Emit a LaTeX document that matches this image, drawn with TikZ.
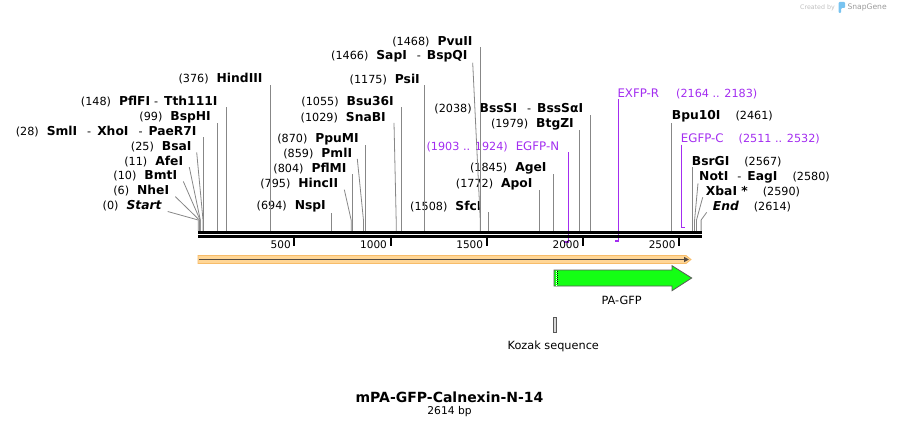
\documentclass[tikz,border=0pt]{standalone}
\usepackage{fontspec}
\setmainfont{DejaVu Sans}
\usepackage{tikz}
\usepackage{xcolor}
\usetikzlibrary{arrows.meta}
\definecolor{cutgray}{RGB}{135,135,135}
\definecolor{primer}{RGB}{163,45,240}
\definecolor{band}{RGB}{255,214,150}
\definecolor{bandedge}{RGB}{247,188,105}
\definecolor{bandline}{RGB}{85,75,65}
\definecolor{gfp}{RGB}{20,255,20}
\definecolor{snapblue}{RGB}{120,195,240}
\newcommand{\en}[1]{{\fontsize{12.3}{14}\selectfont\bfseries #1}}
\newcommand{\bpx}[1]{198.2+0.1924*#1}
\tikzstyle{lab} = [inner sep=0pt, font=\fontsize{11.2}{13}\selectfont, text=black]
\tikzstyle{lleft} = [lab, anchor=east]
\tikzstyle{lright} = [lab, anchor=west]
\tikzstyle{cut} = [cutgray, line width=0.8pt]
\tikzstyle{primerline} = [primer, line width=1.3pt]
\tikzstyle{tick} = [black, line width=2pt]
\tikzstyle{ticklab} = [inner sep=0pt, anchor=east, font=\fontsize{10.5}{12}\selectfont]
\tikzstyle{feat} = [inner sep=0pt, font=\fontsize{11.3}{13}\selectfont]

\begin{document}
\begin{tikzpicture}[x=1pt, y=-1pt]
		\useasboundingbox (0,0) rectangle (900,428);
		% cut sites on the backbone
		\foreach \b in {0,6,10,11,25,28,99,148,376,694,795,804,859,870,1029,1055,1175,1466,1468,1508,1772,1845,1979,2038,2461,2567,2580,2590,2614}
			\coordinate (c\b) at ({\bpx{\b}},231);
		\coordinate (p1903) at ({\bpx{1903}},242);
		\coordinate (p1924) at ({\bpx{1924}},242);
		\coordinate (p2164) at ({\bpx{2164}},241);
		\coordinate (p2183) at ({\bpx{2183}},241);
		\coordinate (p2511) at ({\bpx{2511}},227.5);
		\coordinate (p2532) at ({\bpx{2532}},227.5);

		% left labels
		\node (start) [lleft] at (161.7,206) {(0)\hspace{8pt}\en{\itshape Start}};
		\node (nhe) [lleft] at (169.3,191) {(6)\hspace{8pt}\en{NheI}};
		\node (bmt) [lleft] at (177.3,176) {(10)\hspace{8pt}\en{BmtI}};
		\node (afe) [lleft] at (183.3,161.5) {(11)\hspace{8pt}\en{AfeI}};
		\node (bsa) [lleft] at (191.7,147) {(25)\hspace{8pt}\en{BsaI}};
		\node (sml) [lleft] at (196.7,131.5) {(28)\hspace{8pt}\en{SmlI}\hspace{10pt}-\hspace{6pt}\en{XhoI}\hspace{10pt}-\hspace{6pt}\en{PaeR7I}};
		\node (bsph) [lleft] at (211,117) {(99)\hspace{8pt}\en{BspHI}};
		\node (pflf) [lleft] at (217.7,101.5) {(148)\hspace{8pt}\en{PflFI}\hspace{4pt}-\hspace{6pt}\en{Tth111I}};
		\node (hind) [lleft] at (262.7,79) {(376)\hspace{8pt}\en{HindIII}};
		\node (nsp) [lleft] at (326,206.7) {(694)\hspace{8pt}\en{NspI}};
		\node (hinc) [lleft] at (338.3,184) {(795)\hspace{8pt}\en{HincII}};
		\node (pflm) [lleft] at (346.7,168.3) {(804)\hspace{8pt}\en{PflMI}};
		\node (pml) [lleft] at (352.3,153.3) {(859)\hspace{8pt}\en{PmlI}};
		\node (ppum) [lleft] at (359,139) {(870)\hspace{8pt}\en{PpuMI}};
		\node (sna) [lleft] at (386,117.3) {(1029)\hspace{8pt}\en{SnaBI}};
		\node (bsu) [lleft] at (394,101.7) {(1055)\hspace{8pt}\en{Bsu36I}};
		\node (psi) [lleft] at (420,79.3) {(1175)\hspace{8pt}\en{PsiI}};
		\node (sap) [lleft] at (467.7,56.7) {(1466)\hspace{8pt}\en{SapI}\hspace{10pt}-\hspace{6pt}\en{BspQI}};
		\node (pvu) [lleft] at (472.7,41.7) {(1468)\hspace{8pt}\en{PvuII}};
		\node (sfc) [lleft] at (481.7,206.7) {(1508)\hspace{8pt}\en{SfcI}};
		\node (apo) [lleft] at (532.7,184) {(1772)\hspace{8pt}\en{ApoI}};
		\node (age) [lleft] at (546.7,168.3) {(1845)\hspace{8pt}\en{AgeI}};
		\node (egfpn) [lleft, text=primer] at (559.3,146.7) {(1903 .. 1924)\hspace{8pt}{\fontsize{11.8}{13}\selectfont EGFP-N}};
		\node (btgz) [lleft] at (574,124) {(1979)\hspace{8pt}\en{BtgZI}};
		\node (bsss) [lleft] at (583.3,109) {(2038)\hspace{8pt}\en{BssSI}\hspace{10pt}-\hspace{6pt}\en{BssSαI}};
		% right labels
		\node (exfpr) [lright, text=primer] at (617.3,94) {{\fontsize{11.8}{13}\selectfont EXFP-R}\hspace{17pt}(2164 .. 2183)};
		\node (bpu) [lright] at (671.7,116.7) {\en{Bpu10I}\hspace{15pt}(2461)};
		\node (egfpc) [lright, text=primer] at (680.7,139.3) {{\fontsize{11.8}{13}\selectfont EGFP-C}\hspace{15pt}(2511 .. 2532)};
		\node (bsrg) [lright] at (691.7,161.7) {\en{BsrGI}\hspace{15pt}(2567)};
		\node (noti) [lright] at (699,177.3) {\en{NotI}\hspace{9pt}-\hspace{6pt}\en{EagI}\hspace{15pt}(2580)};
		\node (xba) [lright] at (705.7,191.7) {\en{XbaI *}\hspace{15pt}(2590)};
		\node (endl) [lright] at (712.7,206.7) {\en{\itshape End}\hspace{15pt}(2614)};

		% cut lines
		\draw [cut] (c0) -- ++(0,-11) -- ([xshift=6pt]start.south east);
		\draw [cut] (c6) -- ++(0,-11) -- ([xshift=6pt]nhe.south east);
		\draw [cut] (c10) -- ++(0,-11) -- ([xshift=6pt]bmt.south east);
		\draw [cut] (c11) -- ++(0,-11) -- ([xshift=6pt]afe.south east);
		\draw [cut] (c25) -- ++(0,-11) -- ([xshift=5pt]bsa.south east);
		\draw [cut] (c28) -- (c28 |- sml.south);
		\draw [cut] (c99) -- (c99 |- bsph.south);
		\draw [cut] (c148) -- (c148 |- pflf.south);
		\draw [cut] (c376) -- (c376 |- hind.south);
		\draw [cut] (c694) -- (c694 |- nsp.south);
		\draw [cut] (c795) -- ++(0,-11) -- ([xshift=6pt]hinc.south east);
		\draw [cut] (c804) -- (c804 |- pflm.south);
		\draw [cut] (c859) -- ++(0,-11) -- ([xshift=5pt]pml.south east);
		\draw [cut] (c870) -- (c870 |- ppum.south);
		\draw [cut] (c1029) -- ++(0,-11) -- ([xshift=8pt]sna.south east);
		\draw [cut] (c1055) -- (c1055 |- bsu.south);
		\draw [cut] (c1175) -- (c1175 |- psi.south);
		\draw [cut] (c1466) -- ++(0,-11) -- ([xshift=5pt]sap.south east);
		\draw [cut] (c1468) -- (c1468 |- pvu.south);
		\draw [cut] (c1508) -- (c1508 |- sfc.south);
		\draw [cut] (c1772) -- (c1772 |- apo.south);
		\draw [cut] (c1845) -- (c1845 |- age.south);
		\draw [cut] (c1979) -- (c1979 |- btgz.south);
		\draw [cut] (c2038) -- (c2038 |- bsss.south);
		\draw [cut] (c2461) -- (c2461 |- bpu.south);
		\draw [cut] (c2567) -- (c2567 |- bsrg.south);
		\draw [cut] (c2580) -- ++(0,-11) -- ([xshift=-1pt]noti.south west);
		\draw [cut] (c2590) -- ++(0,-11) -- ([xshift=-3pt]xba.south west);
		\draw [cut] (c2614) -- ++(0,-11) -- ([xshift=-6pt]endl.south west);

		% primers
		\draw [primerline] (p1924 |- egfpn.south) -- (p1924) -- (p1903);
		\draw [primerline] (p2183 |- exfpr.south) -- (p2183) -- (p2164);
		\draw [primerline] (p2511 |- egfpc.south) -- (p2511) -- (p2532);

		% backbone and ruler
		\draw [line width=2.6pt] (198,232.3) -- (701.7,232.3);
		\draw [line width=2.6pt] (198,236.3) -- (701.7,236.3);
		\foreach \t in {500,1000,...,2500} {
			\draw [tick] ({\bpx{\t}},237.5) -- ({\bpx{\t}},245.5);
			\node [ticklab] at ({\bpx{\t}-3.5},244.5) {\t};
		}

		% features
		\filldraw [fill=band, draw=bandedge, line width=0.8pt] (198,255.5) -- (686,255.5) -- (691,259.5) -- (686,263.5) -- (198,263.5) -- cycle;
		\draw [bandline, line width=1.6pt, -{Triangle[length=5pt, width=5pt]}] (199,259.5) -- (689,259.5);
		\filldraw [fill=gfp, draw=black!65, line width=0.8pt] (554,270) -- (672,270) -- (672,265.7) -- (691.7,278) -- (672,290.7) -- (672,286) -- (554,286) -- cycle;
		\draw [white, line width=0.8pt, dash pattern=on 1pt off 1pt] (556,270.6) -- (556,285.4);
		\draw [black, line width=0.5pt, dash pattern=on 1pt off 1pt] (557.3,271.4) -- (557.3,285.4);
		\node (pagfp) [feat] at (621.7,300) {PA-GFP};
		\filldraw [fill=black!15, draw=black!65, line width=0.8pt] (553.3,317.5) rectangle (556,332.7);
		\node (kozak) [feat] at (553.3,346) {Kozak sequence};

		% title
		\node (title) [inner sep=0pt, font=\fontsize{14}{16}\selectfont\bfseries] at (449.5,397) {mPA-GFP-Calnexin-N-14};
		\node (len) [inner sep=0pt, font=\fontsize{10.7}{12}\selectfont] at (449.5,412) {2614 bp};

		% watermark
		\node (made) [inner sep=0pt, anchor=east, text=black!25, font=\fontsize{6.3}{7}\selectfont] at (835,7.5) {Created by};
		\fill [snapblue, rounded corners=1pt] (838.5,2) -- (845,2) -- (845,8) -- (841,8) -- (841,13) -- (838.5,13) -- cycle;
		\node (snap) [inner sep=0pt, anchor=west, text=black!40, font=\fontsize{7.6}{8}\selectfont] at (847.3,7.5) {SnapGene};
	\end{tikzpicture}
\end{document}
